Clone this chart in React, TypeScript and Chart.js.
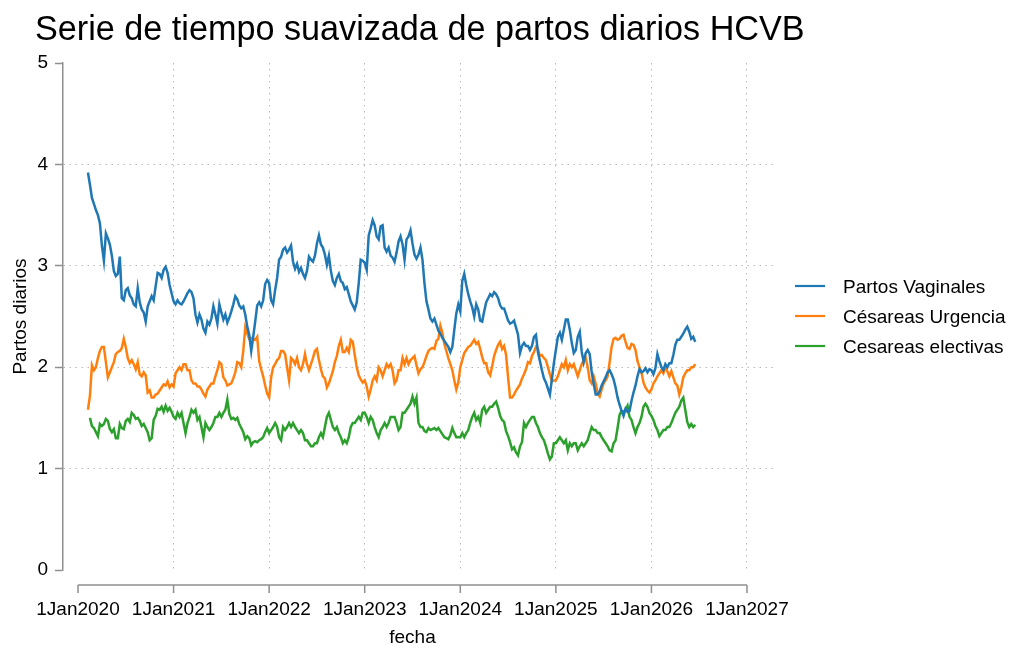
import React, { useEffect, useRef } from 'react';
import { Chart, registerables } from 'chart.js';

Chart.register(...registerables);

const FONT = "'Liberation Sans', Arial, Helvetica, sans-serif";
const TITULO = 'Serie de tiempo suavizada de partos diarios HCVB';
const EJE_Y = 'Partos diarios';
const EJE_X = 'fecha';
const SERIES = ['Partos Vaginales', 'Césareas Urgencia', 'Cesareas electivas'];
const COLORES = ['#1f77b4', '#ff7f0e', '#2ca02c'];
const ANIOS = [2020, 2021, 2022, 2023, 2024, 2025, 2026, 2027];
const ETIQUETAS_X = ['1Jan2020', '1Jan2021', '1Jan2022', '1Jan2023', '1Jan2024', '1Jan2025', '1Jan2026', '1Jan2027'];
const TICKS_Y = [0, 1, 2, 3, 4, 5];
const SEMANAS_POR_ANIO = 48; // one reading about every 7.6 days
const INICIO = [5, 5, 6]; // first reading (week index within 2020) of each series

const partosVaginales = [
  3.92, 3.80, 3.67, 3.61, 3.55, 3.50, 3.42, 3.20, 3.05, 3.32, 3.27, 3.21, 3.10, 2.95, 2.90, 2.92, 3.09, 2.68, 2.66, 2.76, 2.78, 2.71, 2.68, 2.62, 2.60, 2.78, 2.64, 2.57, 2.54, 2.45, 2.60, 2.65, 2.70, 2.66, 2.80, 2.93, 2.92, 2.88, 2.96, 2.99, 2.93, 2.81, 2.73,
  2.65, 2.62, 2.66, 2.63, 2.62, 2.65, 2.69, 2.73, 2.76, 2.74, 2.68, 2.52, 2.44, 2.52, 2.47, 2.38, 2.34, 2.45, 2.42, 2.48, 2.60, 2.52, 2.43, 2.62, 2.54, 2.47, 2.52, 2.44, 2.49, 2.55, 2.62, 2.70, 2.67, 2.61, 2.58, 2.60, 2.52, 2.40, 2.32, 2.16, 2.30, 2.45, 2.61, 2.64, 2.60, 2.66, 2.82, 2.86,
  2.83, 2.66, 2.62, 2.76, 2.88, 3.06, 3.09, 3.16, 3.18, 3.13, 3.16, 3.20, 3.04, 2.97, 3.02, 2.94, 2.98, 2.92, 2.88, 2.95, 3.09, 3.06, 3.04, 3.10, 3.22, 3.30, 3.21, 3.18, 3.11, 3.01, 3.10, 2.95, 2.85, 2.81, 2.88, 2.92, 2.85, 2.83, 2.77, 2.79, 2.72, 2.65, 2.61, 2.57, 2.64, 2.83, 3.06, 3.05,
  3.03, 2.96, 3.30, 3.37, 3.45, 3.40, 3.29, 3.26, 3.39, 3.40, 3.18, 3.14, 3.18, 3.10, 3.08, 3.04, 3.13, 3.24, 3.29, 3.21, 3.06, 3.26, 3.29, 3.35, 3.22, 3.11, 3.07, 3.11, 3.18, 3.06, 2.83, 2.65, 2.57, 2.48, 2.45, 2.48, 2.42, 2.36, 2.33, 2.29, 2.26, 2.23, 2.20, 2.15, 2.20, 2.37, 2.53, 2.62,
  2.55, 2.85, 2.92, 2.81, 2.72, 2.65, 2.59, 2.50, 2.62, 2.57, 2.46, 2.45, 2.55, 2.64, 2.68, 2.72, 2.70, 2.74, 2.72, 2.68, 2.61, 2.58, 2.58, 2.52, 2.46, 2.43, 2.44, 2.46, 2.39, 2.32, 2.14, 2.21, 2.24, 2.21, 2.21, 2.17, 2.21, 2.30, 2.32, 2.15, 2.06, 1.97, 1.89, 1.85, 1.79, 1.73, 1.88, 2.04,
  2.17, 2.30, 2.34, 2.27, 2.37, 2.47, 2.47, 2.37, 2.24, 2.14, 2.17, 2.30, 2.35, 2.15, 2.05, 2.14, 2.17, 2.13, 1.95, 1.84, 1.73, 1.73, 1.76, 1.82, 1.86, 1.90, 1.95, 1.97, 1.93, 1.88, 1.80, 1.70, 1.63, 1.57, 1.52, 1.59, 1.56, 1.57, 1.67, 1.75, 1.82, 1.91, 1.98, 1.95, 1.96, 1.99, 1.95, 1.98,
  1.97, 1.93, 1.99, 2.13, 2.06, 2.00, 1.97, 2.03, 2.00, 2.04, 2.04, 2.12, 2.22, 2.27, 2.27, 2.30, 2.33, 2.37, 2.40, 2.35, 2.28, 2.30, 2.25,
];

const cesareasUrgencia = [
  1.58, 1.72, 2.02, 1.97, 2.00, 2.09, 2.16, 2.20, 2.20, 2.05, 1.90, 1.95, 2.00, 2.05, 2.13, 2.15, 2.16, 2.19, 2.28, 2.20, 2.09, 2.04, 2.07, 2.03, 1.98, 2.05, 1.93, 1.91, 1.95, 1.92, 1.75, 1.77, 1.70, 1.70, 1.73, 1.74, 1.77, 1.80, 1.83, 1.82, 1.86, 1.80, 1.83,
  1.81, 1.94, 1.97, 2.00, 1.97, 2.03, 2.03, 1.97, 1.97, 1.87, 1.84, 1.84, 1.81, 1.81, 1.78, 1.74, 1.71, 1.78, 1.81, 1.84, 1.84, 1.91, 1.97, 2.05, 2.03, 1.90, 1.87, 1.82, 1.83, 1.84, 1.89, 1.95, 2.05, 2.04, 2.00, 2.16, 2.39, 2.33, 2.28, 2.29, 2.28, 2.27, 2.30, 2.06, 1.98, 1.91, 1.82, 1.74,
  1.70, 1.90, 2.00, 2.03, 2.07, 2.09, 2.16, 2.16, 2.13, 2.00, 1.87, 2.09, 2.07, 2.03, 2.09, 2.00, 1.97, 2.03, 2.13, 2.03, 1.97, 2.03, 2.09, 2.16, 2.18, 2.07, 1.98, 1.91, 1.89, 1.80, 1.84, 1.90, 1.96, 2.05, 2.11, 2.21, 2.27, 2.15, 2.15, 2.19, 2.15, 2.27, 2.25, 2.12, 2.00, 1.92, 1.88, 1.85,
  1.87, 1.81, 1.71, 1.78, 1.87, 1.91, 1.87, 2.00, 1.97, 1.91, 1.97, 2.03, 2.00, 2.03, 1.97, 1.84, 1.87, 1.97, 1.97, 2.09, 2.03, 2.09, 2.03, 2.07, 2.09, 2.11, 2.02, 1.94, 1.98, 2.00, 2.05, 2.11, 2.16, 2.18, 2.19, 2.18, 2.26, 2.28, 2.41, 2.34, 2.23, 2.16, 2.09, 2.03, 1.97, 1.87, 1.78, 1.85,
  2.00, 2.07, 2.14, 2.17, 2.20, 2.21, 2.24, 2.27, 2.23, 2.25, 2.18, 2.10, 2.04, 2.04, 1.95, 1.92, 2.01, 2.11, 2.17, 2.22, 2.25, 2.18, 2.21, 2.12, 1.90, 1.70, 1.70, 1.73, 1.77, 1.80, 1.83, 1.89, 1.93, 1.98, 2.05, 2.04, 2.11, 2.15, 2.20, 2.18, 2.11, 2.12, 2.09, 2.07, 2.00, 1.93, 1.86, 1.87,
  1.87, 1.91, 1.97, 2.03, 2.00, 2.07, 1.97, 2.03, 2.00, 2.03, 1.97, 1.91, 1.97, 2.03, 2.07, 2.09, 2.00, 1.87, 1.84, 1.91, 1.84, 1.74, 1.71, 1.78, 1.84, 1.87, 1.91, 2.05, 2.20, 2.28, 2.29, 2.27, 2.28, 2.31, 2.32, 2.25, 2.19, 2.18, 2.23, 2.22, 2.17, 2.06, 2.00, 1.95, 1.85, 1.80, 1.77, 1.75,
  1.78, 1.84, 1.87, 1.91, 1.94, 1.97, 1.94, 2.00, 1.96, 1.91, 1.96, 1.90, 1.84, 1.82, 1.73, 1.80, 1.90, 1.94, 1.97, 1.97, 2.00, 2.00, 2.03,
];

const cesareasElectivas = [
  1.50, 1.42, 1.40, 1.36, 1.32, 1.44, 1.42, 1.44, 1.49, 1.47, 1.39, 1.36, 1.39, 1.30, 1.30, 1.44, 1.40, 1.39, 1.47, 1.49, 1.46, 1.55, 1.53, 1.49, 1.50, 1.47, 1.42, 1.44, 1.40, 1.36, 1.28, 1.30, 1.48, 1.52, 1.59, 1.58, 1.61, 1.56, 1.62, 1.57, 1.60, 1.56,
  1.51, 1.49, 1.55, 1.51, 1.55, 1.45, 1.35, 1.45, 1.51, 1.58, 1.55, 1.58, 1.48, 1.51, 1.41, 1.31, 1.45, 1.41, 1.38, 1.41, 1.45, 1.51, 1.51, 1.55, 1.51, 1.55, 1.58, 1.68, 1.54, 1.49, 1.50, 1.48, 1.50, 1.44, 1.40, 1.36, 1.29, 1.32, 1.30, 1.23, 1.26, 1.27, 1.26, 1.28, 1.29, 1.31, 1.36, 1.40,
  1.35, 1.38, 1.41, 1.45, 1.41, 1.31, 1.28, 1.41, 1.38, 1.41, 1.45, 1.41, 1.45, 1.41, 1.38, 1.35, 1.38, 1.35, 1.28, 1.28, 1.25, 1.22, 1.22, 1.25, 1.25, 1.31, 1.35, 1.31, 1.41, 1.51, 1.55, 1.48, 1.41, 1.38, 1.41, 1.35, 1.31, 1.25, 1.28, 1.25, 1.31, 1.41, 1.45, 1.45, 1.48, 1.51, 1.48, 1.55,
  1.55, 1.51, 1.45, 1.51, 1.48, 1.41, 1.35, 1.31, 1.38, 1.41, 1.45, 1.41, 1.45, 1.51, 1.51, 1.51, 1.45, 1.38, 1.41, 1.55, 1.55, 1.58, 1.61, 1.64, 1.71, 1.64, 1.70, 1.45, 1.41, 1.41, 1.37, 1.36, 1.40, 1.38, 1.39, 1.40, 1.38, 1.40, 1.37, 1.34, 1.31, 1.30, 1.29, 1.33, 1.40, 1.35, 1.31, 1.31,
  1.31, 1.35, 1.31, 1.35, 1.38, 1.45, 1.51, 1.55, 1.48, 1.51, 1.45, 1.58, 1.61, 1.55, 1.58, 1.61, 1.61, 1.64, 1.66, 1.60, 1.52, 1.48, 1.46, 1.37, 1.32, 1.26, 1.19, 1.21, 1.16, 1.13, 1.22, 1.26, 1.45, 1.41, 1.45, 1.48, 1.51, 1.51, 1.45, 1.41, 1.35, 1.31, 1.28, 1.22, 1.15, 1.09, 1.12, 1.25,
  1.25, 1.28, 1.31, 1.28, 1.25, 1.28, 1.18, 1.25, 1.22, 1.25, 1.25, 1.18, 1.22, 1.25, 1.22, 1.25, 1.28, 1.35, 1.41, 1.38, 1.38, 1.35, 1.35, 1.31, 1.28, 1.25, 1.22, 1.18, 1.17, 1.25, 1.28, 1.40, 1.53, 1.57, 1.56, 1.58, 1.62, 1.51, 1.48, 1.41, 1.35, 1.41, 1.45, 1.51, 1.61, 1.64, 1.61, 1.55,
  1.52, 1.48, 1.42, 1.38, 1.32, 1.35, 1.38, 1.38, 1.41, 1.41, 1.45, 1.50, 1.55, 1.58, 1.61, 1.67, 1.70, 1.58, 1.46, 1.41, 1.44, 1.41, 1.43,
];

const VALORES = [partosVaginales, cesareasUrgencia, cesareasElectivas];

const AXIS_COLOR = '#8f8f8f';
const GRID_COLOR = '#b8b8b8';

const toPoints = (vals: number[], start: number) =>
  vals.map((v, i) => ({ x: ANIOS[0] + (start + i) / SEMANAS_POR_ANIO, y: v }));

const stataPlugin = {
  id: 'stataDecor',
  afterDraw(chart: any) {
    const { ctx, chartArea, scales } = chart;
    const x = scales.x;
    ctx.save();
    const x0 = x.getPixelForValue(ANIOS[0]);
    const x1 = x.getPixelForValue(ANIOS[ANIOS.length - 1]);
    const yA = chartArea.bottom + 15;
    ctx.strokeStyle = AXIS_COLOR;
    ctx.lineWidth = 1.5;
    ctx.beginPath();
    ctx.moveTo(x0, yA);
    ctx.lineTo(x1, yA);
    for (const a of ANIOS) {
      const p = x.getPixelForValue(a);
      ctx.moveTo(p, yA);
      ctx.lineTo(p, yA + 8);
    }
    ctx.stroke();

    ctx.fillStyle = '#000';
    ctx.font = `19px ${FONT}`;
    ctx.textAlign = 'center';
    ctx.textBaseline = 'middle';
    ctx.fillText(EJE_X, (x0 + x1) / 2, 638);

    ctx.textAlign = 'left';
    ctx.textBaseline = 'alphabetic';
    ctx.font = `34.2px ${FONT}`;
    ctx.fillText(TITULO, 35, 40);

    ctx.font = `19px ${FONT}`;
    SERIES.forEach((name, i) => {
      const yy = 286 + i * 30;
      ctx.strokeStyle = COLORES[i];
      ctx.lineWidth = 2.2;
      ctx.beginPath();
      ctx.moveTo(795, yy);
      ctx.lineTo(825, yy);
      ctx.stroke();
      ctx.fillStyle = '#000';
      ctx.fillText(name, 843, yy + 7);
    });
    ctx.restore();
  },
};

export default function App() {
  const ref = useRef<HTMLCanvasElement | null>(null);
  useEffect(() => {
    document.body.style.margin = '0';
    const canvas = ref.current;
    if (!canvas) return;
    const chart = new Chart(canvas, {
      type: 'line',
      data: {
        datasets: SERIES.map((label, i) => ({
          label,
          data: toPoints(VALORES[i], INICIO[i]),
          borderColor: COLORES[i],
          backgroundColor: COLORES[i],
          borderWidth: 2.5,
          pointRadius: 0,
          tension: 0,
          fill: false,
        })),
      },
      options: {
        responsive: false,
        animation: false,
        layout: { padding: { top: 63, right: 242, bottom: 0, left: 0 } },
        plugins: {
          legend: { display: false },
          title: { display: false },
          tooltip: { enabled: false },
        },
        scales: {
          x: {
            type: 'linear',
            min: 2019.843,
            max: 2027.293,
            afterBuildTicks: (s: any) => {
              s.ticks = ANIOS.map((v) => ({ value: v }));
            },
            afterFit: (s: any) => {
              s.height = 83;
            },
            ticks: {
              callback: (_v: any, i: number) => ETIQUETAS_X[i],
              font: { family: FONT, size: 19 },
              color: '#000',
              padding: 28,
              maxRotation: 0,
              autoSkip: false,
            },
            grid: {
              drawTicks: false,
              lineWidth: 1,
              color: (c: any) => (c.tick && c.tick.value === ANIOS[0] ? 'rgba(0,0,0,0)' : GRID_COLOR),
            },
            border: { display: false, dash: [1.5, 4.5] },
          },
          y: {
            type: 'linear',
            min: TICKS_Y[0],
            max: TICKS_Y[TICKS_Y.length - 1],
            afterFit: (s: any) => {
              s.width = 63;
            },
            ticks: {
              stepSize: 1,
              font: { family: FONT, size: 19 },
              color: '#000',
              padding: 7,
            },
            grid: {
              drawTicks: true,
              tickLength: 8,
              tickColor: AXIS_COLOR,
              tickWidth: 1.5,
              tickBorderDash: [],
              lineWidth: 1,
              color: (c: any) =>
                c.tick && (c.tick.value === TICKS_Y[0] || c.tick.value === TICKS_Y[TICKS_Y.length - 1])
                  ? 'rgba(0,0,0,0)'
                  : GRID_COLOR,
            },
            border: { display: true, color: AXIS_COLOR, width: 1.5, dash: [1.5, 4.5] },
            title: {
              display: true,
              text: EJE_Y,
              color: '#000',
              font: { family: FONT, size: 19 },
              padding: { top: 9, bottom: 0 },
            },
          },
        },
      },
      plugins: [stataPlugin],
    } as any);
    return () => chart.destroy();
  }, []);
  return (
    <div style={{ width: 1017, height: 653 }}>
      <canvas ref={ref} width={1017} height={653} />
    </div>
  );
}
